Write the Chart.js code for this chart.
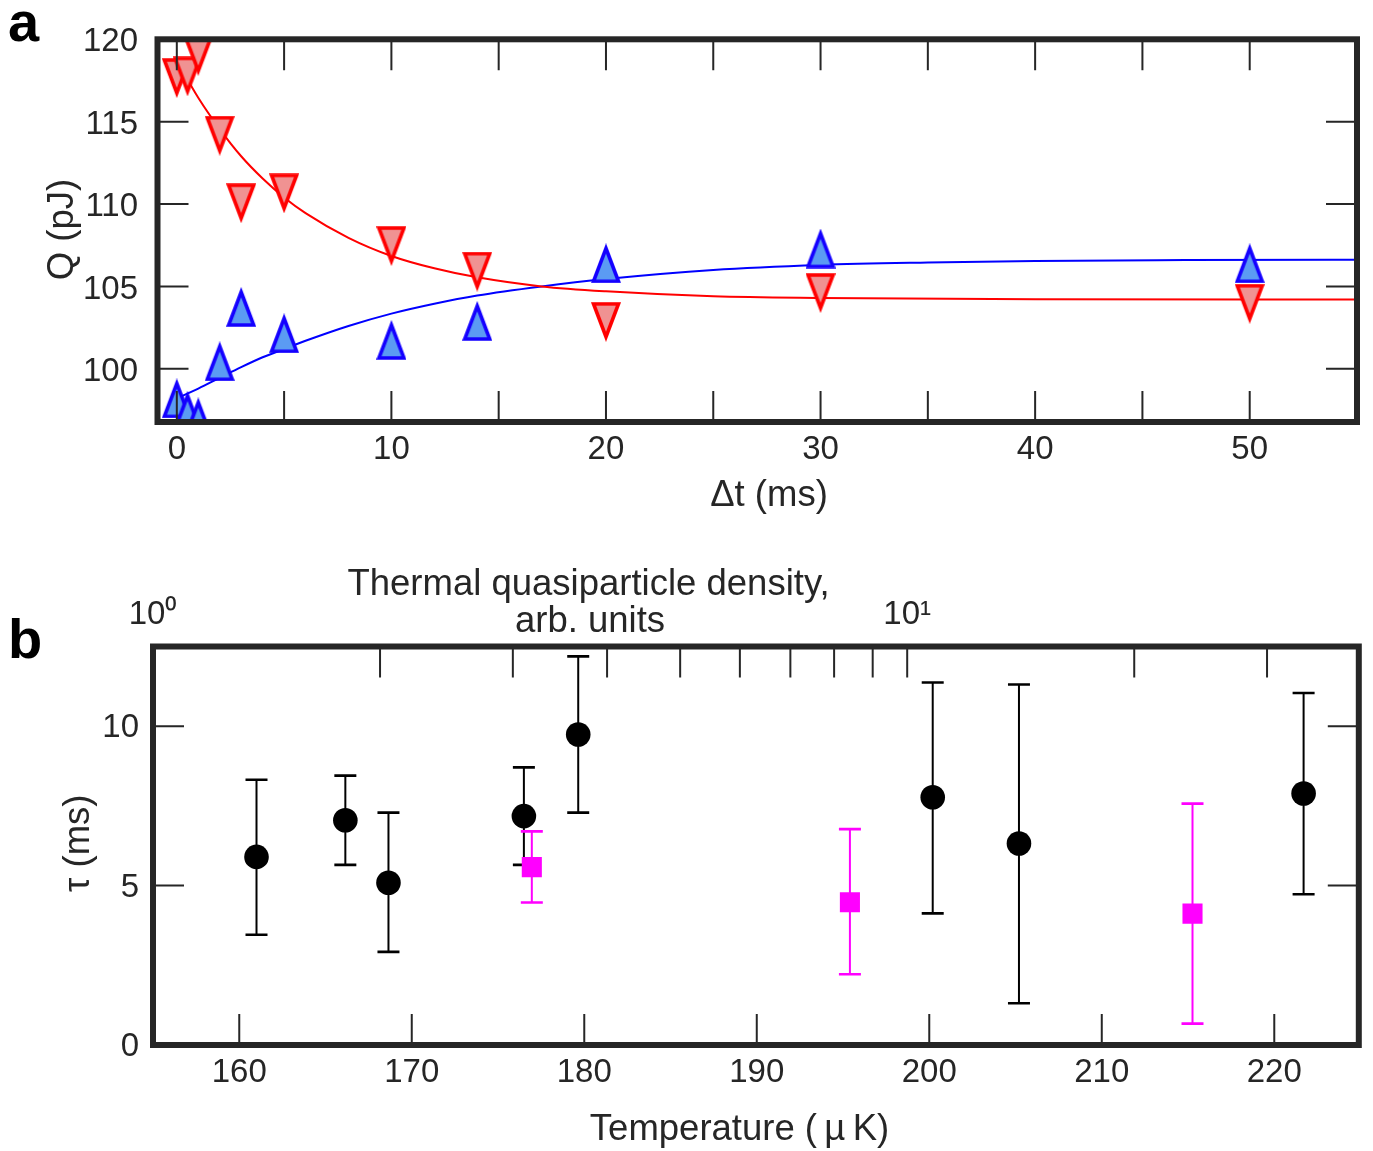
<!DOCTYPE html>
<html><head><meta charset="utf-8">
<script src="https://cdn.jsdelivr.net/npm/chart.js@4.4.1/dist/chart.umd.min.js"></script>
<style>
html,body{margin:0;padding:0;background:#fff;}
#wrap{position:relative;width:1373px;height:1151px;background:#fff;}
#ca{position:absolute;left:0;top:0;}
#cb{position:absolute;left:0;top:540px;}
</style></head><body>
<div id="wrap">
<canvas id="ca" width="1373" height="540"></canvas>
<canvas id="cb" width="1373" height="611"></canvas>
</div>
<script>
// ---------- Panel a data ----------
const dtMs = [0, 0.5, 1, 2, 3, 5, 10, 14, 20, 30, 50];
const qRed = [117.65, 117.75, 119.0, 114.15, 110.05, 110.65, 107.45, 105.9, 102.85, 104.6, 103.95];
const qBlue = [98.2, 97.45, 97.05, 100.45, 103.75, 102.15, 101.75, 102.9, 106.4, 107.3, 106.4];
const fitTRed = [0, 1, 2, 3, 4, 5, 6, 8, 10, 12, 14, 17, 20, 25, 30, 40, 55];
const fitQRed = [118.7, 116.45, 114.55, 112.9, 111.55, 110.4, 109.45, 107.95, 106.85, 106.1, 105.55, 105.0, 104.7, 104.4, 104.3, 104.22, 104.2];
const fitTBlue = [0, 1, 2, 3, 4, 5, 6, 8, 10, 12, 14, 17, 20, 25, 30, 35, 40, 47, 55];
const fitQBlue = [98.2, 98.8, 99.45, 100.1, 100.7, 101.2, 101.7, 102.6, 103.35, 103.95, 104.45, 105.0, 105.45, 106.0, 106.3, 106.45, 106.55, 106.6, 106.62];
const aXTicks = [0, 5, 10, 15, 20, 25, 30, 35, 40, 45, 50];
const aXTickLabels = ['0', '', '10', '', '20', '', '30', '', '40', '', '50'];
const aYTicks = [100, 105, 110, 115, 120];
const aYTickLabels = ['100', '105', '110', '115', '120'];

// ---------- Panel b data ----------
const tempBlack = [161.0, 166.15, 168.65, 176.5, 179.65, 200.2, 205.2, 221.7];
const tauBlack = [5.90, 7.05, 5.09, 7.18, 9.74, 7.77, 6.32, 7.89];
const tauBlackLo = [3.46, 5.65, 2.92, 5.65, 7.29, 4.13, 1.31, 4.73];
const tauBlackHi = [8.32, 8.45, 7.29, 8.71, 12.19, 11.37, 11.31, 11.04];
const tempMag = [176.96, 195.4, 215.26];
const tauMag = [5.58, 4.48, 4.12];
const tauMagLo = [4.47, 2.22, 0.67];
const tauMagHi = [6.70, 6.77, 7.57];
const bXTicks = [160, 170, 180, 190, 200, 210, 220];
const bXTickLabels = ['160', '170', '180', '190', '200', '210', '220'];
const bYTicks = [0, 5, 10];
const bYTickLabels = ['0', '5', '10'];
const bTopTicks = [1, 2, 3, 4, 5, 6, 7, 8, 9, 10, 20, 30];
const bTopTickLabels = ['10\u2070', '', '', '', '', '', '', '', '', '10\u00B9', '', ''];

// ---------- styles ----------
const FONT = "'Liberation Sans', Arial, Helvetica, sans-serif";
const AX = '#262626';
const TICKFS = 33;
const TITLEFS = 36.5;

function triCanvas(up, fill, stroke) {
  const w = 30, h = 40, lw = 3.6;
  const c = document.createElement('canvas');
  c.width = w; c.height = h;
  const g = c.getContext('2d');
  g.beginPath();
  if (up) {
    g.moveTo(w / 2, 5); g.lineTo(w - 2.5, h - 2); g.lineTo(2.5, h - 2);
  } else {
    g.moveTo(2.5, 2); g.lineTo(w - 2.5, 2); g.lineTo(w / 2, h - 5);
  }
  g.closePath();
  g.fillStyle = fill; g.fill();
  g.lineWidth = lw; g.lineJoin = 'miter'; g.miterLimit = 10;
  g.strokeStyle = stroke; g.stroke();
  return c;
}
const triDown = triCanvas(false, '#f09292', '#ff0000');
const triUp = triCanvas(true, '#5b9bf3', '#1400ff');

function pts(xs, ys) { return xs.map((x, i) => ({ x: x, y: ys[i] })); }

function framePlugin(specs) {
  return {
    id: 'frame',
    afterDraw(chart) {
      const ctx = chart.ctx, a = chart.chartArea, L = 31;
      ctx.save();
      ctx.strokeStyle = AX; ctx.lineWidth = 2;
      specs.forEach(sp => {
        const s = chart.scales[sp.id];
        s.ticks.forEach(t => {
          const p = s.getPixelForValue(t.value);
          ctx.beginPath();
          sp.sides.forEach(side => {
            if (side === 'bottom') { ctx.moveTo(p, a.bottom); ctx.lineTo(p, a.bottom - L); }
            if (side === 'top') { ctx.moveTo(p, a.top); ctx.lineTo(p, a.top + L); }
            if (side === 'left') { ctx.moveTo(a.left, p); ctx.lineTo(a.left + L, p); }
            if (side === 'right') { ctx.moveTo(a.right, p); ctx.lineTo(a.right - L, p); }
          });
          ctx.stroke();
        });
      });
      ctx.lineWidth = 6; ctx.strokeStyle = AX;
      ctx.strokeRect(a.left, a.top, a.right - a.left, a.bottom - a.top);
      ctx.restore();
    }
  };
}

function textPlugin(items) {
  return {
    id: 'texts',
    afterDraw(chart) {
      const ctx = chart.ctx;
      items.forEach(it => {
        ctx.save();
        ctx.font = it.font; ctx.fillStyle = it.color || AX;
        ctx.textAlign = it.align || 'center'; ctx.textBaseline = it.baseline || 'middle';
        ctx.translate(it.x, it.y);
        if (it.rot) ctx.rotate(it.rot);
        ctx.fillText(it.text, 0, 0);
        ctx.restore();
      });
    }
  };
}

function tickSetter(arr) { return s => { s.ticks = arr.map(v => ({ value: v })); }; }

// ---------- Panel a ----------
new Chart(document.getElementById('ca'), {
  type: 'scatter',
  data: {
    datasets: [
      { data: pts(dtMs, qRed), pointStyle: triDown, pointRadius: 14, order: 1, clip: 0 },
      { data: pts(dtMs, qBlue), pointStyle: triUp, pointRadius: 14, order: 2, clip: 0 },
      { data: pts(fitTRed, fitQRed), showLine: true, borderColor: '#ff0000', borderWidth: 2,
        pointRadius: 0, cubicInterpolationMode: 'monotone', order: 3, clip: 0 },
      { data: pts(fitTBlue, fitQBlue), showLine: true, borderColor: '#0000ff', borderWidth: 2,
        pointRadius: 0, cubicInterpolationMode: 'monotone', order: 4, clip: 0 }
    ]
  },
  options: {
    responsive: false, animation: false, events: [],
    layout: { padding: { left: 0, right: 16, top: 36.3, bottom: 0 } },
    plugins: { legend: { display: false }, tooltip: { enabled: false } },
    scales: {
      x: {
        type: 'linear', position: 'bottom', min: -0.9, max: 55,
        afterFit(s) { s.height = 118; },
        afterBuildTicks: tickSetter(aXTicks),
        grid: { display: false, drawTicks: false }, border: { display: false },
        ticks: { autoSkip: false, maxRotation: 0, padding: 7.7, color: AX,
          font: { family: FONT, size: TICKFS }, callback: (v, i) => aXTickLabels[i] }
      },
      y: {
        type: 'linear', position: 'left', min: 96.77, max: 120,
        afterFit(s) { s.width = 157.5; },
        afterBuildTicks: tickSetter(aYTicks),
        grid: { display: false, drawTicks: false }, border: { display: false },
        ticks: { autoSkip: false, padding: 19.5, labelOffset: 3, color: AX,
          font: { family: FONT, size: TICKFS }, callback: (v, i) => aYTickLabels[i] }
      }
    }
  },
  plugins: [
    framePlugin([{ id: 'x', sides: ['top', 'bottom'] }, { id: 'y', sides: ['left', 'right'] }]),
    textPlugin([
      { text: 'a', x: 8, y: 41, font: 'bold 56px ' + FONT, color: '#000', align: 'left', baseline: 'alphabetic' },
      { text: 'Q (pJ)', x: 63, y: 229.5, rot: -Math.PI / 2, font: TITLEFS + 'px ' + FONT },
      { text: '\u0394t (ms)', x: 769, y: 495.5, font: TITLEFS + 'px ' + FONT }
    ])
  ]
});

// ---------- Panel b ----------
const errPlugin = {
  id: 'errbars',
  beforeDatasetsDraw(chart) {
    const ctx = chart.ctx, xs = chart.scales.x, ys = chart.scales.y, cap = 11;
    const draw = (T, lo, hi, color) => {
      ctx.strokeStyle = color;
      T.forEach((t, i) => {
        const px = xs.getPixelForValue(t), p1 = ys.getPixelForValue(lo[i]), p2 = ys.getPixelForValue(hi[i]);
        ctx.lineWidth = 2;
        ctx.beginPath(); ctx.moveTo(px, p1); ctx.lineTo(px, p2); ctx.stroke();
        ctx.lineWidth = 2.6;
        ctx.beginPath();
        ctx.moveTo(px - cap, p1); ctx.lineTo(px + cap, p1);
        ctx.moveTo(px - cap, p2); ctx.lineTo(px + cap, p2);
        ctx.stroke();
      });
    };
    ctx.save();
    draw(tempBlack, tauBlackLo, tauBlackHi, '#000000');
    draw(tempMag, tauMagLo, tauMagHi, '#ff00ff');
    ctx.restore();
  }
};

new Chart(document.getElementById('cb'), {
  type: 'scatter',
  data: {
    datasets: [
      { data: pts(tempMag, tauMag), xAxisID: 'x', yAxisID: 'y', pointStyle: 'rect', pointRadius: 14.2,
        backgroundColor: '#ff00ff', borderWidth: 0, order: 1 },
      { data: pts(tempBlack, tauBlack), xAxisID: 'x', yAxisID: 'y', pointStyle: 'circle', pointRadius: 12.3,
        backgroundColor: '#000000', borderWidth: 0, order: 2 }
    ]
  },
  options: {
    responsive: false, animation: false, events: [],
    layout: { padding: { left: 0, right: 11, top: 0, bottom: 0 } },
    plugins: { legend: { display: false }, tooltip: { enabled: false } },
    scales: {
      x: {
        type: 'linear', axis: 'x', position: 'bottom', min: 155, max: 224.9,
        afterFit(s) { s.height = 106; },
        afterBuildTicks: tickSetter(bXTicks),
        grid: { display: false, drawTicks: false }, border: { display: false },
        ticks: { autoSkip: false, maxRotation: 0, padding: 8.5, color: AX,
          font: { family: FONT, size: TICKFS }, callback: (v, i) => bXTickLabels[i] }
      },
      x2: {
        type: 'logarithmic', axis: 'x', position: 'top', min: 1, max: 39.7,
        afterFit(s) { s.height = 106.5; },
        afterBuildTicks: tickSetter(bTopTicks),
        grid: { display: false, drawTicks: false }, border: { display: false },
        ticks: { autoSkip: false, maxRotation: 0, padding: 12, color: AX,
          font: { family: FONT, size: TICKFS }, callback: (v, i) => bTopTickLabels[i] }
      },
      y: {
        type: 'linear', position: 'left', min: 0, max: 12.5,
        afterFit(s) { s.width = 153; },
        afterBuildTicks: tickSetter(bYTicks),
        grid: { display: false, drawTicks: false }, border: { display: false },
        ticks: { autoSkip: false, padding: 14, labelOffset: 2, color: AX,
          font: { family: FONT, size: TICKFS }, callback: (v, i) => bYTickLabels[i] }
      }
    }
  },
  plugins: [
    errPlugin,
    framePlugin([{ id: 'x', sides: ['bottom'] }, { id: 'x2', sides: ['top'] }, { id: 'y', sides: ['left', 'right'] }]),
    textPlugin([
      { text: 'b', x: 8, y: 118, font: 'bold 56px ' + FONT, color: '#000', align: 'left', baseline: 'alphabetic' },
      { text: '\u03C4 (ms)', x: 79, y: 303.3, rot: -Math.PI / 2, font: TITLEFS + 'px ' + FONT },
      { text: 'Temperature (\u2009\u00B5\u2009K)', x: 739.5, y: 590, font: TITLEFS + 'px ' + FONT },
      { text: 'Thermal quasiparticle density,', x: 588.5, y: 45, font: TITLEFS + 'px ' + FONT },
      { text: 'arb. units', x: 590, y: 82, font: TITLEFS + 'px ' + FONT }
    ])
  ]
});
</script>
</body></html>
